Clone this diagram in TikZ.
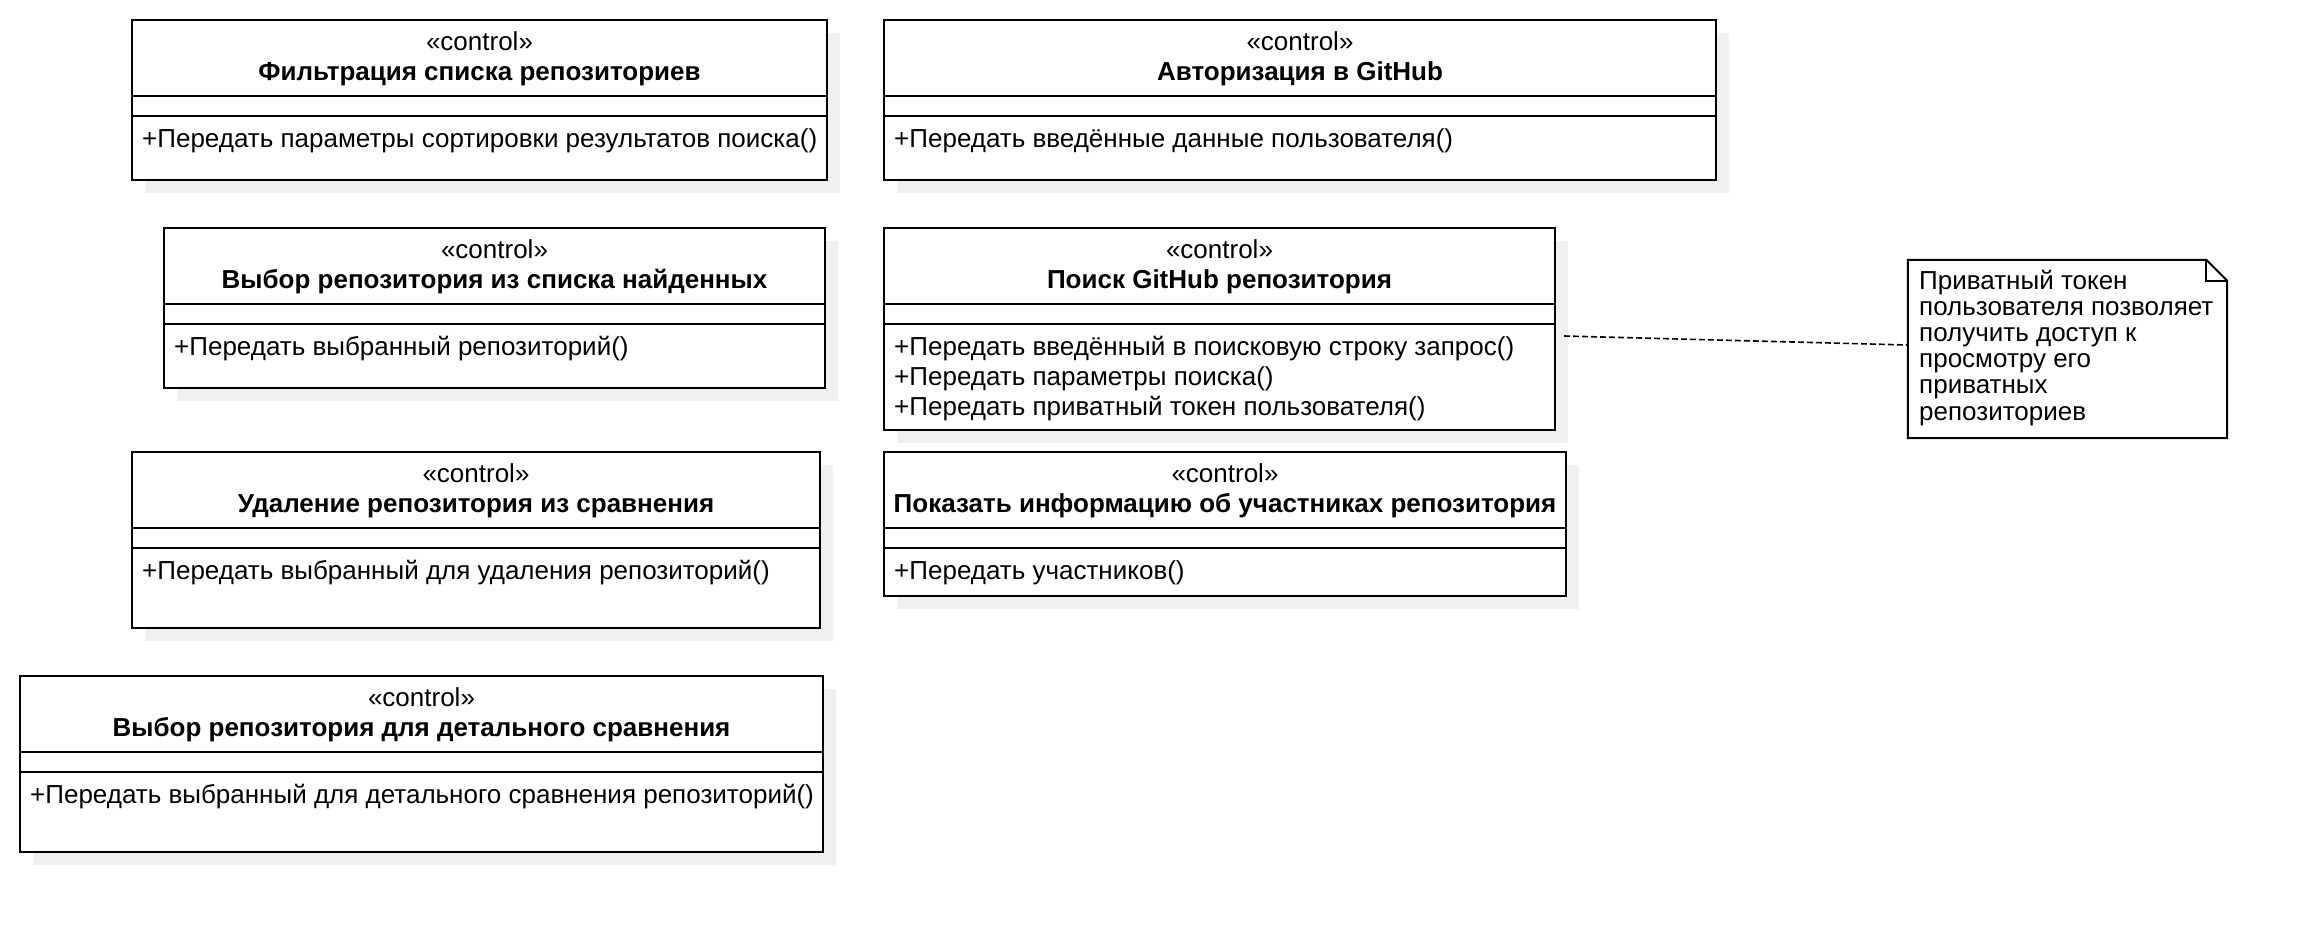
\documentclass[tikz,border=0pt]{standalone}
\usepackage{fontspec}
\setmainfont{Liberation Sans}
\usetikzlibrary{fit,calc}

\tikzset{
  classbox/.style={draw, fill=white, line width=2pt, inner sep=0pt},
  classline/.style={line width=2pt},
  boxshadow/.style={fill=black!6},
  stereo/.style={anchor=base, inner sep=0pt, font=\fontsize{26}{30}\selectfont},
  classname/.style={anchor=base, inner sep=0pt, font=\fontsize{26}{30}\selectfont\bfseries},
  oper/.style={anchor=base west, inner sep=0pt, font=\fontsize{26}{30}\selectfont},
  notebox/.style={draw, fill=white, line width=2pt, line join=miter},
  notetext/.style={anchor=base west, inner sep=0pt, font=\fontsize{26}{26}\selectfont},
  notelink/.style={line width=1.6pt, dash pattern=on 6pt off 3pt},
}

% control class: name, left, top, right, bottom, title
\newcommand{\ctrlclass}[6]{%
  \fill[boxshadow] (#2+13,#3+13) rectangle (#4+13,#5+13);
  \node[classbox, fit={(#2,#3) (#4,#5)}] (#1) {};
  \draw[classline] (#2,#3+76) -- (#4,#3+76);
  \draw[classline] (#2,#3+96) -- (#4,#3+96);
  \node[stereo] at ({(#2+#4)/2},#3+30) {«control»};
  \node[classname] at ({(#2+#4)/2},#3+60) {#6};
}

\begin{document}
\begin{tikzpicture}[x=1pt,y=-1pt]
    \fill[white] (0,0) rectangle (2308,932);
    \useasboundingbox (0,0) rectangle (2308,932);

    % left column
    \ctrlclass{filter}{132}{20}{827}{180}{Фильтрация списка репозиториев}
    \node[oper] (filterop) at (142,147) {+Передать параметры сортировки результатов поиска()};

    \ctrlclass{pick}{164}{228}{825}{388}{Выбор репозитория из списка найденных}
    \node[oper] (pickop) at (174,355) {+Передать выбранный репозиторий()};

    \ctrlclass{remove}{132}{452}{820}{628}{Удаление репозитория из сравнения}
    \node[oper] (removeop) at (142,579) {+Передать выбранный для удаления репозиторий()};

    \ctrlclass{detail}{20}{676}{823}{852}{Выбор репозитория для детального сравнения}
    \node[oper] (detailop) at (30,803) {+Передать выбранный для детального сравнения репозиторий()};

    % right column
    \ctrlclass{auth}{884}{20}{1716}{180}{Авторизация в GitHub}
    \node[oper] (authop) at (894,147) {+Передать введённые данные пользователя()};

    \ctrlclass{search}{884}{228}{1555}{430}{Поиск GitHub репозитория}
    \foreach \op [count=\i from 0] in {+Передать введённый в поисковую строку запрос(),
        +Передать параметры поиска(), +Передать приватный токен пользователя()}
        \node[oper] (searchop\i) at (894,{355+30*\i}) {\op};

    \ctrlclass{members}{884}{452}{1566}{596}{Показать информацию об участниках репозитория}
    \node[oper] (membersop) at (894,579) {+Передать участников()};

    % note
    \node[inner sep=0pt, fit={(1908,260) (2227,438)}] (note) {};
    \draw[notebox] (note.north west) -- ([xshift=-21pt]note.north east)
        -- ([yshift=-21pt]note.north east) -- (note.south east)
        -- (note.south west) -- cycle;
    \draw[line width=2pt] ([xshift=-21pt]note.north east) -- ++(0,21) -- ++(21,0);
    \foreach \ln [count=\i from 0] in {Приватный токен, пользователя позволяет,
        получить доступ к, просмотру его, приватных, репозиториев}
        \node[notetext] (notel\i) at (1919,{289+26.2*\i}) {\ln};

    \draw[notelink] ($(search.east)+(8,7)$) -- ($(note.west)+(0,-4)$);
\end{tikzpicture}
\end{document}
